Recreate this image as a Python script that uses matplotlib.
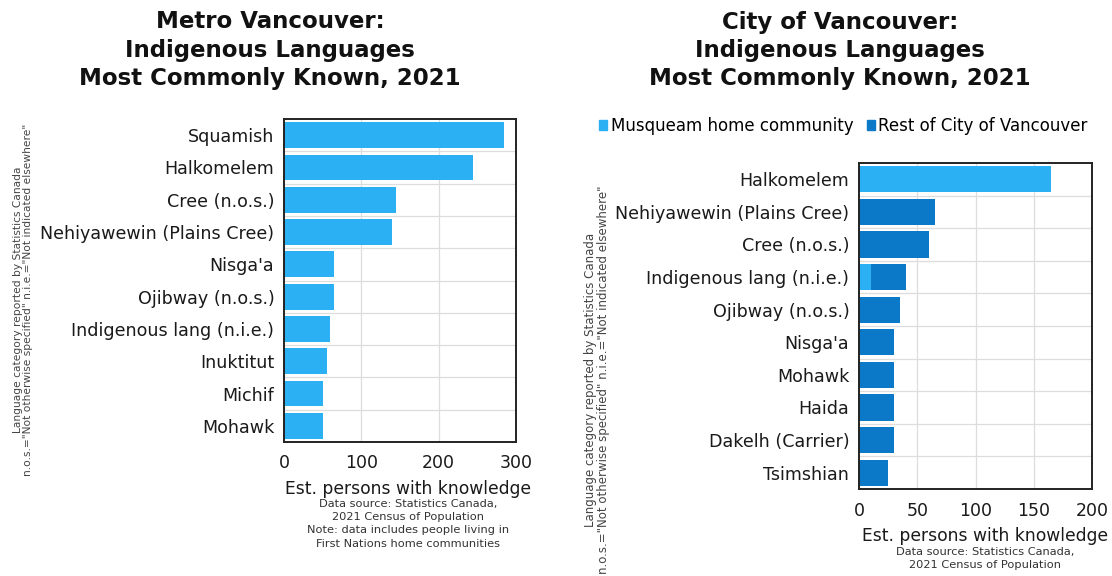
import matplotlib
matplotlib.use("Agg")
import matplotlib.pyplot as plt
from matplotlib.patches import Patch

# ---- data ----
metro_languages = ["Squamish", "Halkomelem", "Cree (n.o.s.)", "Nehiyawewin (Plains Cree)",
                   "Nisga'a", "Ojibway (n.o.s.)", "Indigenous lang (n.i.e.)", "Inuktitut",
                   "Michif", "Mohawk"]
metro_counts = [285, 245, 145, 140, 65, 65, 60, 55, 50, 50]
metro_ticks = [0, 100, 200, 300]

city_languages = ["Halkomelem", "Nehiyawewin (Plains Cree)", "Cree (n.o.s.)",
                  "Indigenous lang (n.i.e.)", "Ojibway (n.o.s.)", "Nisga'a", "Mohawk",
                  "Haida", "Dakelh (Carrier)", "Tsimshian"]
city_musqueam = [165, 0, 0, 10, 0, 0, 0, 0, 0, 0]
city_rest = [0, 65, 60, 30, 35, 30, 30, 30, 30, 25]
city_ticks = [0, 50, 100, 150, 200]

LIGHT = "#2AB0F3"
DARK = "#0B79C7"
TEXT = "#1a1a1a"
FONT = "DejaVu Sans"

W, H = 1112, 576
fig = plt.figure(figsize=(W / 100, H / 100), dpi=100)
fig.patch.set_facecolor("white")


def px_axes(left, top, right, bottom):
    return fig.add_axes([left / W, 1 - bottom / H, (right - left) / W, (bottom - top) / H])


def style_axes(ax, labels, ticks):
    n = len(labels)
    ax.set_ylim(n - 0.5, -0.5)
    ax.set_xlim(ticks[0], ticks[-1])
    ax.set_yticks(range(n))
    ax.set_yticklabels(labels, fontsize=12.6, color=TEXT, family=FONT)
    ax.set_xticks(ticks)
    ax.set_xticklabels([str(t) for t in ticks], fontsize=12.5, color=TEXT, family=FONT)
    ax.tick_params(axis="both", length=0)
    ax.tick_params(axis="y", pad=7)
    ax.tick_params(axis="x", pad=9)
    # vertical grid at ticks, horizontal grid between rows
    for t in ticks[1:-1]:
        ax.axvline(t, color="#dddddd", lw=0.9, zorder=0)
    for i in range(n - 1):
        ax.axhline(i + 0.5, color="#dddddd", lw=0.9, zorder=0)
    for s in ax.spines.values():
        s.set_color("#222222")
        s.set_linewidth(1.4)


TITLE_KW = dict(ha="center", va="center", fontsize=16.5, fontweight="bold", family=FONT,
                color="#111111")
NOTE_KW = dict(ha="center", va="top", fontsize=8.2, color="#333333", family=FONT,
               linespacing=1.4)

# ---- Metro Vancouver ----
ax1 = px_axes(284, 119, 516, 442)
ax1.barh(range(len(metro_languages)), metro_counts, height=0.8, color=LIGHT, zorder=2)
style_axes(ax1, metro_languages, metro_ticks)

for yy, line in zip([22, 50, 78], ["Metro Vancouver:", "Indigenous Languages",
                                  "Most Commonly Known, 2021"]):
    fig.text(270 / W, 1 - yy / H, line, **TITLE_KW)
fig.text(408 / W, 1 - 489 / H, "Est. persons with knowledge", ha="center", va="center",
         fontsize=12.3, color=TEXT, family=FONT)
fig.text(408 / W, 1 - 499 / H,
         "Data source: Statistics Canada,\n2021 Census of Population\n"
         "Note: data includes people living in\nFirst Nations home communities", **NOTE_KW)
fig.text(23 / W, 1 - 300 / H,
         "Language category reported by Statistics Canada\n"
         "n.o.s.=\"Not otherwise specified\" n.i.e.=\"Not indicated elsewhere\"",
         rotation=90, ha="center", va="center", fontsize=7.7, color="#444444",
         family=FONT, linespacing=1.05)

# ---- City of Vancouver ----
ax2 = px_axes(859, 163, 1092, 489)
y2 = range(len(city_languages))
ax2.barh(y2, city_musqueam, height=0.8, color=LIGHT, zorder=2)
ax2.barh(y2, city_rest, left=city_musqueam, height=0.8, color=DARK, zorder=2)
style_axes(ax2, city_languages, city_ticks)

for yy, line in zip([22, 50, 78], ["City of Vancouver:", "Indigenous Languages",
                                  "Most Commonly Known, 2021"]):
    fig.text(840 / W, 1 - yy / H, line, **TITLE_KW)
fig.text(985 / W, 1 - 536 / H, "Est. persons with knowledge", ha="center", va="center",
         fontsize=12.3, color=TEXT, family=FONT)
fig.text(985 / W, 1 - 547 / H, "Data source: Statistics Canada,\n2021 Census of Population",
         **NOTE_KW)
fig.text(597 / W, 1 - 380 / H,
         "Language category reported by Statistics Canada\n"
         "n.o.s.=\"Not otherwise specified\" n.i.e.=\"Not indicated elsewhere\"",
         rotation=90, ha="center", va="center", fontsize=8.5, color="#444444",
         family=FONT, linespacing=1.05)

handles = [Patch(color=LIGHT, label="Musqueam home community"),
           Patch(color=DARK, label="Rest of City of Vancouver")]
fig.legend(handles=handles, loc="center left", bbox_to_anchor=(599 / W, 1 - 126 / H),
           ncol=2, frameon=False, handlelength=0.5, handleheight=0.5, handletextpad=0.2,
           columnspacing=0.8, borderaxespad=0, borderpad=0,
           prop={"family": FONT, "size": 12.0})

fig.savefig("out.png", dpi=100, facecolor="white")
